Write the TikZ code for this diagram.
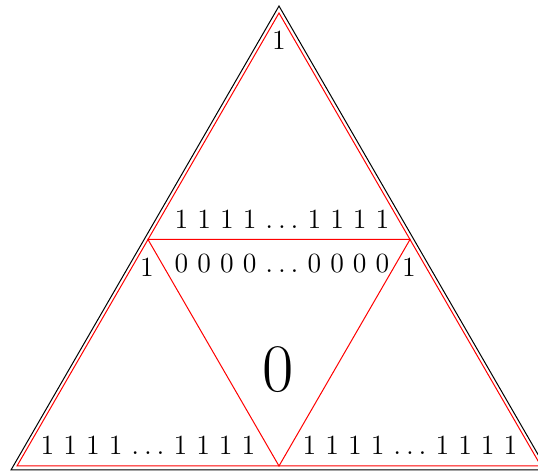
\documentclass[tikz,border=0pt]{standalone}
\usepackage{fontspec}
\usetikzlibrary{calc}
\begin{document}
\begin{tikzpicture}[x=0.5pt,y=0.5pt,line width=0.5pt,
  bits/.style={font=\fontsize{13.9}{17}\selectfont,inner sep=0pt}]
  \useasboundingbox (0,0) rectangle (538,473);
  % outer triangle
  \coordinate (top) at (279,467);
  \coordinate (bl) at (11,3);
  \coordinate (br) at (547,3);
  \draw (top) -- (bl) -- (br) -- cycle;
  % inner (red) triangle and its midpoints
  \coordinate (rtop) at (279,460);
  \coordinate (rbl) at (17,7);
  \coordinate (rbr) at (541,7);
  \coordinate (ml) at ($(rtop)!0.5!(rbl)$);
  \coordinate (mr) at ($(rtop)!0.5!(rbr)$);
  \coordinate (mb) at ($(rbl)!0.5!(rbr)$);
  \draw[red] (rtop) -- (rbl) -- (rbr) -- cycle;
  \draw[red] (ml) -- (mr) -- (mb) -- cycle;
  % labels
  \node[bits] (apex) at (279,433) {1};
  \node[bits] (ones) at (282,254) {1 1 1 1 $\ldots$ 1 1 1 1};
  \node[bits] (zeros) at (282,209) {0 0 0 0 $\ldots$ 0 0 0 0};
  \node[bits] (lone) at (147,206) {1};
  \node[bits] (rone) at (409,206) {1};
  \node[font=\fontsize{34}{40}\selectfont,inner sep=0pt] (zero) at (278,103) {0};
  \node[bits] (onesl) at (148,28) {1 1 1 1 $\ldots$ 1 1 1 1};
  \node[bits] (onesr) at (410,28) {1 1 1 1 $\ldots$ 1 1 1 1};
\end{tikzpicture}
\end{document}
